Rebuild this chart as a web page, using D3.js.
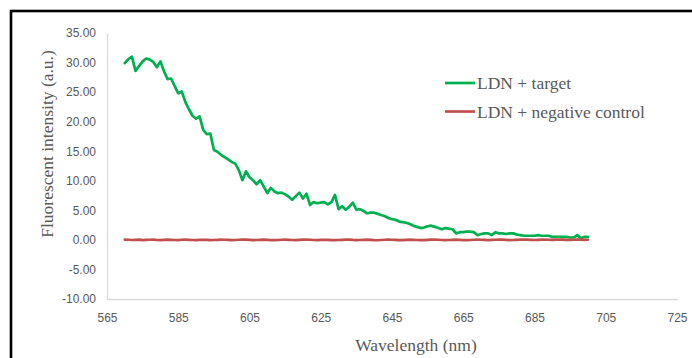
<!DOCTYPE html>
<html>
<head>
<meta charset="utf-8">
<script src="https://cdn.jsdelivr.net/npm/d3@7"></script>
<style>
  body { margin: 0; background: #fff; }
  svg { display: block; }
  .serif { font-family: 'Liberation Serif', 'Times New Roman', 'DejaVu Serif', serif; }
  .tick text { font-family: 'Liberation Sans', Arial, sans-serif; }
</style>
</head>
<body>
<svg id="chart" width="692" height="358"></svg>
<script>
// wavelength 570..700 nm, 1 nm step
const wavelengths = d3.range(570, 701);

const targetValues = [
  29.9, 30.6, 31.0, 28.6, 29.4, 30.2, 30.7, 30.5, 30.1, 29.2,
  30.2, 28.5, 27.2, 27.3, 26.0, 24.8, 25.1, 23.3, 22.1, 21.0,
  20.5, 20.9, 18.6, 17.9, 18.0, 15.2, 14.9, 14.4, 14.0, 13.6,
  13.2, 12.9, 11.8, 10.1, 11.6, 10.6, 10.1, 9.4, 10.1, 9.0,
  7.9, 8.8, 8.2, 7.9, 8.0, 7.7, 7.3, 6.8, 7.4, 8.0,
  7.0, 7.8, 5.9, 6.4, 6.2, 6.3, 6.4, 6.0, 6.4, 7.6,
  5.2, 5.7, 5.1, 5.6, 6.3, 5.1, 5.2, 4.9, 4.5, 4.6,
  4.6, 4.4, 4.2, 4.0, 3.7, 3.5, 3.4, 3.1, 3.0, 2.9,
  2.7, 2.4, 2.2, 2.0, 2.1, 2.3, 2.4, 2.2, 2.0, 1.8,
  2.0, 1.9, 1.8, 1.1, 1.3, 1.3, 1.4, 1.4, 1.3, 0.8,
  1.0, 1.1, 1.1, 0.8, 1.3, 1.1, 1.1, 1.0, 1.1, 1.1,
  0.9, 0.8, 0.7, 0.7, 0.7, 0.7, 0.8, 0.7, 0.7, 0.7,
  0.5, 0.5, 0.5, 0.5, 0.5, 0.4, 0.4, 0.8, 0.3, 0.5,
  0.5
];

const controlValues = [
  0.05, 0.02, -0.02, 0.00, 0.03, -0.03, -0.01, 0.02, 0.04, -0.02,
  -0.04, 0.00, 0.03, 0.01, -0.02, -0.03, 0.02, 0.05, 0.01, -0.02,
  -0.05, -0.01, 0.02, 0.00, -0.03, -0.02, 0.01, 0.04, 0.02, -0.01,
  -0.03, -0.02, 0.02, 0.05, 0.03, -0.01, -0.04, -0.02, 0.01, 0.03,
  0.00, -0.03, -0.05, -0.02, 0.02, 0.04, 0.01, -0.02, -0.03, 0.00,
  0.03, 0.05, 0.02, -0.02, -0.04, -0.01, 0.02, 0.01, -0.03, -0.05,
  -0.02, 0.01, 0.04, 0.03, -0.01, -0.03, -0.02, 0.01, 0.03, 0.00,
  -0.04, -0.06, -0.02, 0.02, 0.04, 0.02, -0.01, -0.04, -0.03, 0.01,
  0.03, 0.01, -0.02, -0.05, -0.03, 0.00, 0.03, 0.05, 0.02, -0.02,
  -0.04, -0.02, 0.01, 0.03, 0.01, -0.03, -0.05, -0.02, 0.02, 0.04,
  0.02, -0.01, -0.03, -0.01, 0.02, 0.05, 0.03, 0.00, -0.03, -0.02,
  0.01, 0.04, 0.06, 0.03, 0.00, -0.02, 0.01, 0.04, 0.05, 0.02,
  0.00, 0.03, 0.06, 0.04, 0.01, -0.01, 0.02, 0.05, 0.03, 0.01,
  0.02
];

const xTicks = [565, 585, 605, 625, 645, 665, 685, 705, 725];
const yTicks = [-10, -5, 0, 5, 10, 15, 20, 25, 30, 35];

const seriesNames = ['LDN + target', 'LDN + negative control'];
const seriesColors = ['#00b050', '#c0504d'];

const svg = d3.select('#chart');

// outer frame (runs off the right and bottom of the shot)
svg.append('rect')
  .attr('x', 11).attr('y', 11)
  .attr('width', 760).attr('height', 400)
  .attr('fill', 'none')
  .attr('stroke', '#000')
  .attr('stroke-width', 2.6);

const x = d3.scaleLinear().domain([565, 725]).range([107, 677]);
const y = d3.scaleLinear().domain([-10, 35]).range([299, 33]);

// axes
const xAxis = svg.append('g')
  .attr('transform', `translate(0,${y(-10)})`)
  .call(d3.axisBottom(x).tickValues(xTicks).tickSize(0).tickPadding(14).tickFormat(d3.format('d')));
xAxis.select('.domain').attr('stroke', '#d9d9d9').attr('stroke-width', 1.3);

const yAxis = svg.append('g')
  .attr('transform', `translate(${x(565)},0)`)
  .call(d3.axisLeft(y).tickValues(yTicks).tickSize(0).tickPadding(11)
    .tickFormat(d => d.toFixed(2)));
yAxis.select('.domain').attr('stroke', '#d9d9d9').attr('stroke-width', 1.3);

svg.selectAll('.tick text')
  .attr('font-family', null)
  .attr('font-size', '12px')
  .attr('fill', '#595959');

// series
const line = d3.line()
  .x((d, i) => x(wavelengths[i]))
  .y(d => y(d));

[targetValues, controlValues].forEach((vals, k) => {
  svg.append('path')
    .datum(vals)
    .attr('d', line)
    .attr('fill', 'none')
    .attr('stroke', seriesColors[k])
    .attr('stroke-width', 2.7)
    .attr('stroke-linejoin', 'round')
    .attr('stroke-linecap', 'round');
});

// legend
const legend = svg.append('g');
seriesNames.forEach((name, k) => {
  const ly = 83 + k * 28.5;
  legend.append('line')
    .attr('x1', 445).attr('x2', 475)
    .attr('y1', ly).attr('y2', ly)
    .attr('stroke', seriesColors[k])
    .attr('stroke-width', 2.7);
  legend.append('text')
    .attr('class', 'serif')
    .attr('x', 477).attr('y', ly + 6)
    .attr('font-size', '17.5px')
    .attr('fill', '#595959')
    .text(name);
});

// axis titles
svg.append('text')
  .attr('class', 'serif')
  .attr('x', 416).attr('y', 351)
  .attr('text-anchor', 'middle')
  .attr('font-size', '17.5px')
  .attr('fill', '#595959')
  .text('Wavelength (nm)');

svg.append('text')
  .attr('class', 'serif')
  .attr('transform', 'translate(53,144) rotate(-90)')
  .attr('text-anchor', 'middle')
  .attr('font-size', '17.5px')
  .attr('fill', '#595959')
  .text('Fluorescent intensity (a.u.)');
</script>
</body>
</html>
